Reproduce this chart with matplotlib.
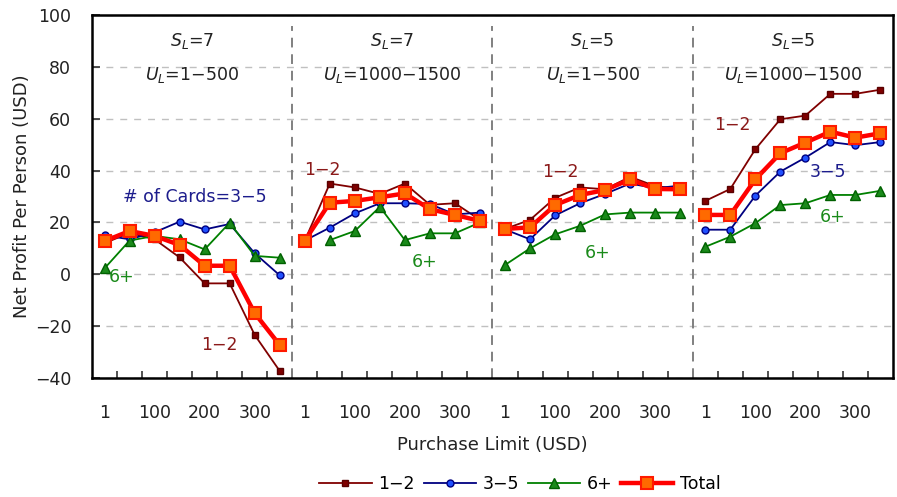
import numpy as np
import matplotlib
matplotlib.use('Agg')
import matplotlib.pyplot as plt
from matplotlib.ticker import FixedLocator

plt.rcParams['font.family'] = ['DejaVu Sans']

# purchase limits per group (8 points), four parameter groups
limits = [1, 50, 100, 150, 200, 250, 300, 350]
tick_limits = [1, 100, 200, 300]
group_top = ['$S_L$=7', '$S_L$=7', '$S_L$=5', '$S_L$=5']
group_bottom = ['$U_L$=1\u2212500', '$U_L$=1000\u22121500',
                '$U_L$=1\u2212500', '$U_L$=1000\u22121500']

cards_1_2 = [
    [12, 16, 13.5, 6.5, -3.5, -3.5, -23.4, -37.3],
    [13, 35, 33.5, 31, 35, 26.8, 27.4, 21],
    [17.5, 21, 29.5, 33.5, 32.8, 37.6, 34, 33],
    [28.3, 32.9, 48.2, 59.8, 61.2, 69.6, 69.6, 71.2],
]
cards_3_5 = [
    [15, 13.5, 16.2, 20.3, 17.3, 19.4, 8.1, -0.4],
    [13, 18, 23.5, 27.4, 27.4, 27.1, 23.1, 23.8],
    [17.3, 13.5, 22.7, 27.4, 31, 35, 33.2, 34.2],
    [17.2, 17.2, 30.3, 39.6, 45, 51, 49.8, 51],
]
cards_6 = [
    [2.3, 13, 14.8, 13.5, 9.6, 19.9, 7.1, 6.4],
    [np.nan, 13.2, 16.7, 26, 13.2, 15.8, 15.8, 20],
    [3.6, 10, 15.4, 18.7, 23.1, 23.8, 23.8, 23.8],
    [10.6, 14.5, 19.7, 26.7, 27.4, 30.6, 30.6, 32.2],
]
total = [
    [12.8, 16.7, 14.8, 11.3, 3.3, 3.3, -15, -27.3],
    [13, 27.6, 28.3, 29.7, 31.2, 25.1, 22.9, 20.6],
    [17.5, 18.1, 26.7, 30.6, 32.5, 36.6, 32.9, 32.8],
    [22.9, 22.9, 36.6, 46.7, 50.8, 55, 52.7, 54.4],
]

n = len(limits)
fig = plt.figure(figsize=(8.97, 4.97), dpi=100)
ax = fig.add_axes([0.1026, 0.2394, 0.8929, 0.7304])

for g in range(4):
    x = np.arange(n) + g * n
    ax.plot(x, cards_1_2[g], color='#800000', lw=1.3, marker='s', ms=5,
            mfc='#800000', mec='#5a0000', label='1\u22122' if g == 0 else None, zorder=3)
    ax.plot(x, cards_3_5[g], color='#000080', lw=1.3, marker='o', ms=5,
            mfc='#2050ff', mec='#000080', label='3\u22125' if g == 0 else None, zorder=3)
    ax.plot(x, cards_6[g], color='#008000', lw=1.3, marker='^', ms=7,
            mfc='#1a8a1a', mec='#006000', label='6+' if g == 0 else None, zorder=3)
    ax.plot(x, total[g], color='#ff0000', lw=3.2, marker='s', ms=8.5,
            mfc='#ff6a00', mec='#ff1a00', mew=1.5, label='Total' if g == 0 else None, zorder=4)
    cx = g * n + (n - 1) / 2
    ax.text(cx, 90, group_top[g], ha='center', va='center', fontsize=12.5, color='#222222')
    ax.text(cx, 77, group_bottom[g], ha='center', va='center', fontsize=12.5, color='#222222')

for g in range(1, 4):
    ax.axvline(g * n - 0.5, ymin=0, ymax=0.97, color='#808080', lw=1.4, ls=(0, (5, 3.5)), zorder=1)

# series labels inside the panels
ax.text(3.6, 29.8, '# of Cards=3\u22125', color='#1c1c8c', fontsize=12.5, ha='center', va='center')
ax.text(0.7, -1, '6+', color='#1a8a1a', fontsize=12.5, ha='center', va='center')
ax.text(4.6, -27.3, '1\u22122', color='#8b1a1a', fontsize=12.5, ha='center', va='center')
ax.text(8.7, 40.2, '1\u22122', color='#8b1a1a', fontsize=12.5, ha='center', va='center')
ax.text(12.8, 4.7, '6+', color='#1a8a1a', fontsize=12.5, ha='center', va='center')
ax.text(18.2, 39.5, '1\u22122', color='#8b1a1a', fontsize=12.5, ha='center', va='center')
ax.text(19.7, 8.2, '6+', color='#1a8a1a', fontsize=12.5, ha='center', va='center')
ax.text(25.1, 57.5, '1\u22122', color='#8b1a1a', fontsize=12.5, ha='center', va='center')
ax.text(28.9, 39.5, '3\u22125', color='#1c1c8c', fontsize=12.5, ha='center', va='center')
ax.text(29.1, 22.1, '6+', color='#1a8a1a', fontsize=12.5, ha='center', va='center')

ax.set_xlim(-0.5, 4 * n - 0.5)
ax.set_ylim(-40, 100)
ax.set_yticks(np.arange(-40, 101, 20))
ax.yaxis.grid(True, color='#c0c0c0', ls=(0, (5, 5)), lw=1)
ax.set_axisbelow(True)

major = [g * n + limits.index(t) for g in range(4) for t in tick_limits]
ax.set_xticks(major)
ax.set_xticklabels([str(t) for g in range(4) for t in tick_limits])
ax.xaxis.set_minor_locator(FixedLocator(np.arange(0.5, 4 * n - 1, 1)))
ax.tick_params(axis='x', which='major', length=0, pad=19, labelsize=12.5, labelcolor='#222222')
ax.tick_params(axis='x', which='minor', direction='in', length=5, width=1.2, color='#333333')
ax.tick_params(axis='y', direction='in', length=6, width=1.2, labelsize=12.5,
               color='#333333', labelcolor='#222222', pad=15)

for s in ax.spines.values():
    s.set_linewidth(1.8)
    s.set_color('black')

ax.set_xlabel('Purchase Limit (USD)', fontsize=13, labelpad=10, color='#222222')
ax.set_ylabel('Net Profit Per Person (USD)', fontsize=13, labelpad=3, color='#222222')

fig.legend(loc='center', bbox_to_anchor=(0.58, 0.026), ncol=4, frameon=False,
           fontsize=12.5, handlelength=3, handletextpad=0.4, columnspacing=0.5)

fig.savefig('out.png', dpi=100)
